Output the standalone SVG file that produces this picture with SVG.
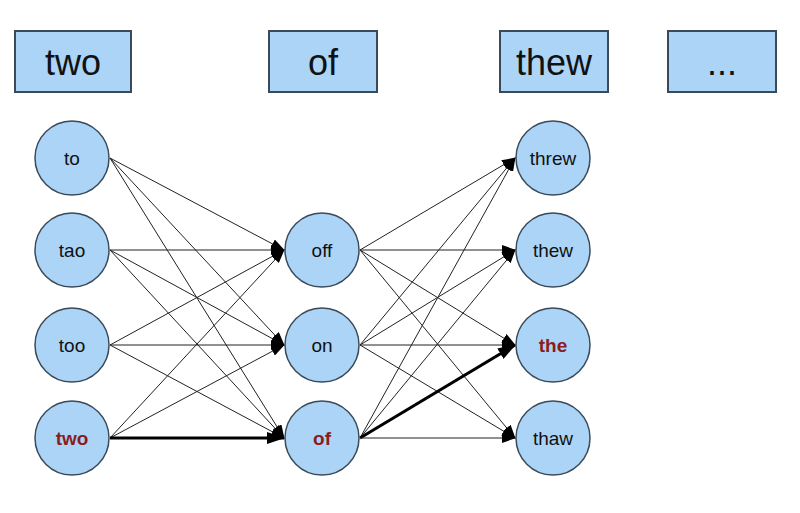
<svg xmlns="http://www.w3.org/2000/svg" width="800" height="513" viewBox="0 0 800 513">
<style>
.b{fill:#abd4f7;stroke:#3a4a5a;stroke-width:2}
.c{fill:#abd4f7;stroke:#3a4a5a;stroke-width:1.5}
.t{font-family:"Liberation Sans",Arial,sans-serif;text-anchor:middle;fill:#111}
.n{font-size:19px}
.h{font-size:36px}
.r{fill:#8b1c1c;font-weight:bold}
.e{stroke:#222;stroke-width:1;fill:none;marker-end:url(#a)}
.k{stroke:#000;stroke-width:3;fill:none;marker-end:url(#a2)}
</style>
<defs>
<marker id="a" markerWidth="14" markerHeight="10" refX="13" refY="5" orient="auto" markerUnits="userSpaceOnUse"><path d="M0,0 L14,5 L0,10 Z" fill="#000"/></marker>
<marker id="a2" markerWidth="18" markerHeight="12" refX="17" refY="6" orient="auto" markerUnits="userSpaceOnUse"><path d="M0,0 L18,6 L0,12 Z" fill="#000"/></marker>
</defs>
<g id="connectors">
<path class="e" d="M110,158 L284,250"/><path class="e" d="M110,158 L284,345"/><path class="e" d="M110,158 L284,438"/>
<path class="e" d="M110,250 L284,250"/><path class="e" d="M110,250 L284,345"/><path class="e" d="M110,250 L284,438"/>
<path class="e" d="M110,345 L284,250"/><path class="e" d="M110,345 L284,345"/><path class="e" d="M110,345 L284,438"/>
<path class="e" d="M110,438 L284,250"/><path class="e" d="M110,438 L284,345"/><path class="k" d="M110,438 L284,438"/>
<path class="e" d="M360,250 L515,158"/><path class="e" d="M360,250 L515,250"/><path class="e" d="M360,250 L515,345"/><path class="e" d="M360,250 L515,438"/>
<path class="e" d="M360,345 L515,158"/><path class="e" d="M360,345 L515,250"/><path class="e" d="M360,345 L515,345"/><path class="e" d="M360,345 L515,438"/>
<path class="e" d="M360,438 L515,158"/><path class="e" d="M360,438 L515,250"/><path class="k" d="M360,438 L515,345"/><path class="e" d="M360,438 L515,438"/>
</g>
<g id="box-two"><rect class="b" x="15" y="31" width="116" height="61"/><text class="t h" x="73" y="75">two</text></g>
<g id="box-of"><rect class="b" x="269" y="31" width="108" height="61"/><text class="t h" x="323" y="75">of</text></g>
<g id="box-thew"><rect class="b" x="500" y="31" width="108" height="61"/><text class="t h" x="554" y="75">thew</text></g>
<g id="box-dots"><rect class="b" x="668" y="31" width="108" height="61"/><text class="t h" x="722" y="75">...</text></g>
<g id="n-to"><circle class="c" cx="72" cy="158" r="37"/><text class="t n" x="72" y="165">to</text></g>
<g id="n-tao"><circle class="c" cx="72" cy="250" r="37"/><text class="t n" x="72" y="257">tao</text></g>
<g id="n-too"><circle class="c" cx="72" cy="345" r="37"/><text class="t n" x="72" y="352">too</text></g>
<g id="n-two"><circle class="c" cx="72" cy="438" r="37"/><text class="t n r" x="72" y="445">two</text></g>
<g id="n-off"><circle class="c" cx="322" cy="250" r="37"/><text class="t n" x="322" y="257">off</text></g>
<g id="n-on"><circle class="c" cx="322" cy="345" r="37"/><text class="t n" x="322" y="352">on</text></g>
<g id="n-of"><circle class="c" cx="322" cy="438" r="37"/><text class="t n r" x="322" y="445">of</text></g>
<g id="n-threw"><circle class="c" cx="553" cy="158" r="37"/><text class="t n" x="553" y="165">threw</text></g>
<g id="n-thew"><circle class="c" cx="553" cy="250" r="37"/><text class="t n" x="553" y="257">thew</text></g>
<g id="n-the"><circle class="c" cx="553" cy="345" r="37"/><text class="t n r" x="553" y="352">the</text></g>
<g id="n-thaw"><circle class="c" cx="553" cy="438" r="37"/><text class="t n" x="553" y="445">thaw</text></g>
</svg>
